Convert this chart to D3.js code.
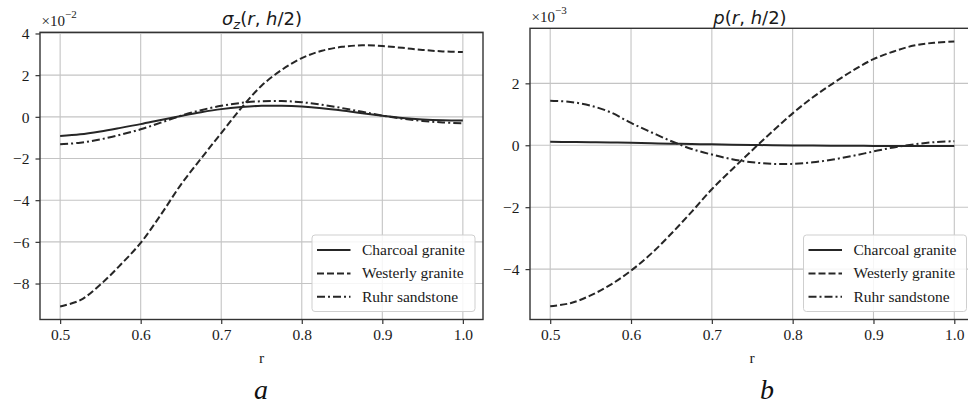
<!DOCTYPE html>
<html>
<head>
<meta charset="utf-8">
<script src="https://cdn.jsdelivr.net/npm/d3@7"></script>
<style>
  html, body { margin: 0; padding: 0; background: #fff; }
  svg { display: block; }
  .tick text { font-family: "Liberation Serif", "Times New Roman", serif; font-size: 15.5px; fill: #1a1a1a; }
</style>
</head>
<body>
<svg id="chart" width="968" height="407"></svg>
<script>
// Radial positions sampled along r
const radius = [0.5, 0.525, 0.55, 0.575, 0.6, 0.625, 0.65, 0.675, 0.7, 0.725, 0.75,
                0.775, 0.8, 0.825, 0.85, 0.875, 0.9, 0.925, 0.95, 0.975, 1.0];

const seriesNames = ["Charcoal granite", "Westerly granite", "Ruhr sandstone"];

// Panel a: sigma_z(r, h/2), in units of 1e-2
const sigmaCharcoal = [-0.92, -0.84, -0.70, -0.53, -0.35, -0.15, 0.04, 0.22, 0.37, 0.47, 0.53,
                       0.53, 0.49, 0.41, 0.30, 0.17, 0.05, -0.06, -0.13, -0.17, -0.18];
const sigmaWesterly = [-9.10, -8.80, -8.05, -7.10, -6.05, -4.70, -3.25, -2.00, -0.78, 0.43, 1.49,
                       2.25, 2.82, 3.17, 3.36, 3.43, 3.40, 3.31, 3.21, 3.14, 3.11];
const sigmaRuhr     = [-1.32, -1.24, -1.08, -0.86, -0.60, -0.28, 0.05, 0.32, 0.53, 0.67, 0.75,
                       0.76, 0.70, 0.58, 0.42, 0.24, 0.06, -0.09, -0.20, -0.27, -0.31];

// Panel b: p(r, h/2), in units of 1e-3
const pCharcoal = [0.11, 0.105, 0.10, 0.09, 0.08, 0.065, 0.05, 0.04, 0.03, 0.02, 0.01,
                   0.0, -0.005, -0.01, -0.015, -0.018, -0.02, -0.02, -0.02, -0.02, -0.02];
const pWesterly = [-5.20, -5.10, -4.85, -4.50, -4.05, -3.50, -2.85, -2.15, -1.42, -0.78, -0.16,
                   0.45, 1.03, 1.55, 2.00, 2.42, 2.78, 3.03, 3.22, 3.31, 3.35];
const pRuhr     = [1.44, 1.40, 1.28, 1.06, 0.72, 0.42, 0.13, -0.12, -0.30, -0.45, -0.55,
                   -0.60, -0.60, -0.55, -0.46, -0.34, -0.20, -0.07, 0.03, 0.10, 0.13];

// Tick values
const xTicks = [0.5, 0.6, 0.7, 0.8, 0.9, 1.0];
const sigmaTicks = [-8, -6, -4, -2, 0, 2, 4];
const pTicks = [-4, -2, 0, 2];

const svg = d3.select("#chart");
const serif = '"Liberation Serif", "Times New Roman", serif';
const sans = '"DejaVu Sans", sans-serif';
const ink = "#262626";
const dashes = [null, "7,3", "8,3,2,3"];

function padded(arrays) {
  const all = arrays.flat();
  const [lo, hi] = d3.extent(all);
  const m = (hi - lo) * 0.05;
  return [lo - m, hi + m];
}

function drawPanel(cfg) {
  const { left, right, top, bottom } = cfg.box;
  const xDom = [0.5 - 0.025, 1.0 + 0.025];
  const x = d3.scaleLinear().domain(xDom).range([left, right]);
  const y = d3.scaleLinear().domain(padded(cfg.series)).range([bottom, top]);
  const g = svg.append("g");

  // grid
  g.append("g").selectAll("line").data(xTicks).join("line")
    .attr("x1", d => x(d)).attr("x2", d => x(d))
    .attr("y1", top).attr("y2", bottom)
    .attr("stroke", "#c4c4c4").attr("stroke-width", 1.1);
  g.append("g").selectAll("line").data(cfg.yTicks).join("line")
    .attr("x1", left).attr("x2", right)
    .attr("y1", d => y(d)).attr("y2", d => y(d))
    .attr("stroke", "#c4c4c4").attr("stroke-width", 1.1);

  // curves
  const line = d3.line().x((d, i) => x(radius[i])).y(d => y(d)).curve(d3.curveCatmullRom.alpha(0.5));
  cfg.series.forEach((vals, k) => {
    g.append("path").datum(vals)
      .attr("d", line)
      .attr("fill", "none")
      .attr("stroke", ink)
      .attr("stroke-width", 2)
      .attr("stroke-dasharray", dashes[k]);
  });

  // frame
  g.append("rect").attr("x", left).attr("y", top)
    .attr("width", right - left).attr("height", bottom - top)
    .attr("fill", "none").attr("stroke", "#333").attr("stroke-width", 1.4);

  // axes
  const ax = g.append("g").attr("transform", `translate(0,${bottom})`)
    .call(d3.axisBottom(x).tickValues(xTicks).tickFormat(d3.format(".1f")).tickSize(4.5).tickPadding(5));
  const ay = g.append("g").attr("transform", `translate(${left},0)`)
    .call(d3.axisLeft(y).tickValues(cfg.yTicks).tickFormat(d3.format("d")).tickSize(4.5).tickPadding(6));
  [ax, ay].forEach(a => {
    a.select(".domain").remove();
    a.selectAll(".tick line").attr("stroke", "#333").attr("stroke-width", 1.2);
    a.selectAll(".tick text").attr("font-family", null).attr("font-size", null);
  });
  ay.selectAll(".tick text").attr("dy", "0.34em");

  // offset text (scale factor)
  const off = g.append("text").attr("x", left + 1.5).attr("y", top - 6.3)
    .attr("font-family", serif).attr("font-size", 15).attr("fill", "#1a1a1a");
  off.append("tspan").text("\u00d710");
  off.append("tspan").attr("dy", -8).attr("font-size", 11).text(cfg.exponent);

  // title
  const t = g.append("text").attr("x", cfg.titleX).attr("y", cfg.titleY)
    .attr("text-anchor", "middle").attr("font-family", sans).attr("font-size", 18).attr("fill", "#1a1a1a");
  cfg.title.forEach(part => {
    const s = t.append("tspan").text(part.t);
    if (part.i) s.attr("font-style", "italic");
    if (part.sub) s.attr("font-size", 13).attr("dy", 4);
    if (part.up) s.attr("dy", -4);
  });

  // x label and panel letter
  g.append("text").attr("x", cfg.labelX).attr("y", 363)
    .attr("text-anchor", "middle").attr("font-family", serif).attr("font-size", 15.5)
    .attr("fill", "#1a1a1a").text("r");
  g.append("text").attr("x", cfg.letterX).attr("y", 399)
    .attr("text-anchor", "middle").attr("font-family", serif).attr("font-style", "italic")
    .attr("font-size", 28).attr("fill", "#111").text(cfg.letter);

  // legend
  const lx = right - 8 - 163, ly = bottom - 8 - 76.5;
  const lg = g.append("g").attr("transform", `translate(${lx},${ly})`);
  lg.append("rect").attr("width", 163).attr("height", 76.5).attr("rx", 3)
    .attr("fill", "#fff").attr("fill-opacity", 0.85)
    .attr("stroke", "#cfcfcf").attr("stroke-width", 1);
  seriesNames.forEach((name, k) => {
    const yy = 15 + k * 23.4;
    lg.append("line").attr("x1", 5).attr("x2", 38.5).attr("y1", yy).attr("y2", yy)
      .attr("stroke", ink).attr("stroke-width", 2).attr("stroke-dasharray", dashes[k]);
    lg.append("text").attr("x", 50).attr("y", yy + 5)
      .attr("font-family", serif).attr("font-size", 15.5).attr("fill", "#1a1a1a").text(name);
  });
}

drawPanel({
  box: { left: 40, right: 483, top: 32.3, bottom: 319.5 },
  series: [sigmaCharcoal, sigmaWesterly, sigmaRuhr],
  yTicks: sigmaTicks,
  exponent: "\u22122",
  title: [{ t: "\u03c3", i: true }, { t: "z", i: true, sub: true }, { t: "(", up: true }, { t: "r", i: true }, { t: ", " }, { t: "h", i: true }, { t: "/2)" }],
  titleX: 262, titleY: 24.5,
  labelX: 261.5, letterX: 261, letter: "a"
});

drawPanel({
  box: { left: 530, right: 974.5, top: 28.3, bottom: 319.5 },
  series: [pCharcoal, pWesterly, pRuhr],
  yTicks: pTicks,
  exponent: "\u22123",
  title: [{ t: "p", i: true }, { t: "(" }, { t: "r", i: true }, { t: ", " }, { t: "h", i: true }, { t: "/2)" }],
  titleX: 750, titleY: 23.5,
  labelX: 752, letterX: 767, letter: "b"
});
</script>
</body>
</html>
